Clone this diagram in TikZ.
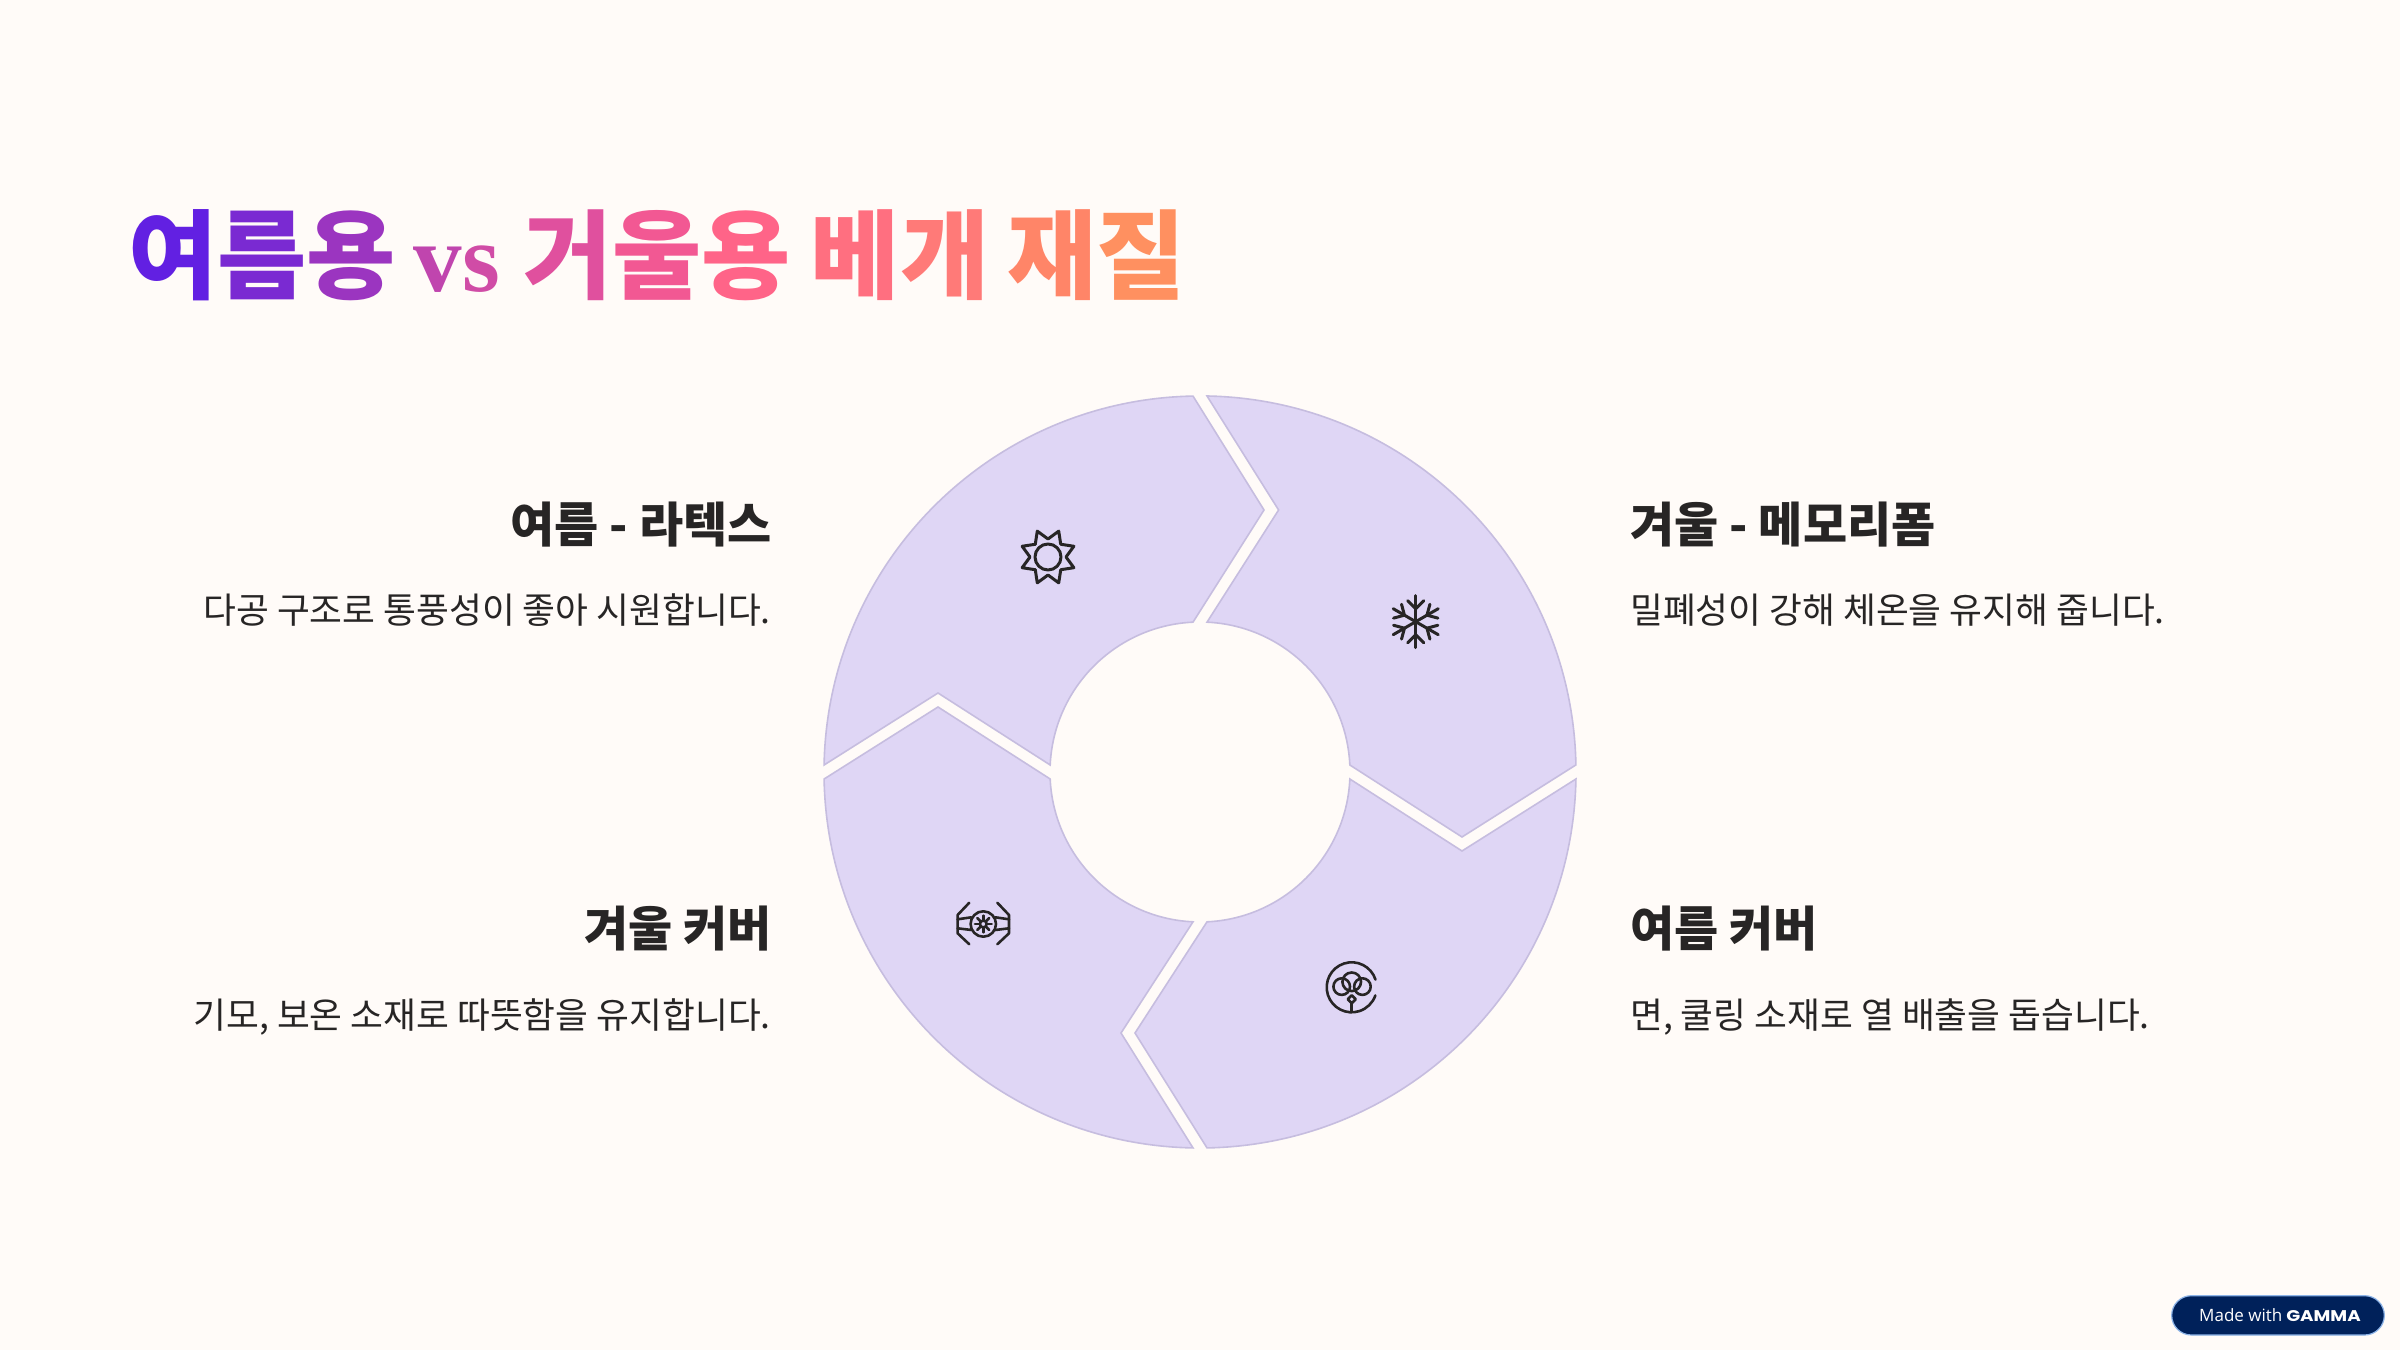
\documentclass[tikz,border=0pt]{standalone}
\usepackage{fontspec}
\setmainfont{Noto Sans CJK KR}
\newfontfamily\krf{Noto Sans CJK KR}
\newfontfamily\vsf{Liberation Serif}
\newfontfamily\badgef{Open Sans}
\newfontfamily\gammaf{Poppins}
\definecolor{bgc}{HTML}{FFFBF8}
\definecolor{petal}{HTML}{DFD6F5}
\definecolor{petaledge}{HTML}{C6BDDF}
\definecolor{ink}{HTML}{272525}
\definecolor{navy}{HTML}{00215A}
\definecolor{navyedge}{HTML}{8DB4E8}
\newcommand{\tg}[2]{\textcolor[HTML]{#1}{#2}}
\tikzset{
  petalshape/.style={fill=petal,draw=petaledge,line width=1.6pt,line join=miter},
  iconline/.style={draw=ink,line width=3pt,line cap=round,line join=round},
  iconthin/.style={draw=ink,line width=2.6pt,line cap=round,line join=round},
  headr/.style={anchor=base east,text=ink,inner sep=0pt,font=\krf\bfseries\fontsize{48}{48}\selectfont},
  headl/.style={anchor=base west,text=ink,inner sep=0pt,font=\krf\bfseries\fontsize{48}{48}\selectfont},
  bodyr/.style={anchor=base east,text=ink,inner sep=0pt,font=\krf\fontsize{35.7}{35.7}\selectfont},
  bodyl/.style={anchor=base west,text=ink,inner sep=0pt,font=\krf\fontsize{35.7}{35.7}\selectfont},
  titlenode/.style={anchor=base west,inner sep=0pt,font=\krf\bfseries\fontsize{97}{97}\selectfont},
}
\begin{document}
\begin{tikzpicture}[x=1pt,y=1pt]
\useasboundingbox (0,0) rectangle (2400,1350);
\fill[bgc] (0,0) rectangle (2400,1350);
\node[titlenode] (title) at (128,1058) {\tg{6220E2}{여}\tg{7A2AD2}{름}\tg{9B35C0}{용}\kern 18pt{\vsf\bfseries\tg{C045AE}{v}\tg{D04CA6}{s}}\kern 23pt \tg{E0509E}{거}\tg{F25893}{울}\tg{FF6488}{용}\kern 20pt \tg{FF6F80}{베}\tg{FF7A78}{개}\kern 18pt \tg{FF8568}{재}\tg{FF9060}{질}};
% ring
\coordinate (c) at (1200,578);
\draw[petalshape] (1207,954) arc (88.93:1.067:376pt) -- (1462,513) -- (1349.84,585) arc (2.675:87.325:150pt) -- (1278.6,840) -- cycle;
\draw[petalshape] (1575.93,571) arc (-1.067:-88.93:376pt) -- (1135,317) -- (1207,428.16) arc (-87.325:-2.675:150pt) -- (1462,499) -- cycle;
\draw[petalshape] (1193,202.07) arc (-91.067:-178.93:376pt) -- (938,643) -- (1050.16,571) arc (182.675:267.325:150pt) -- (1121,317) -- cycle;
\draw[petalshape] (824.07,585) arc (178.93:91.067:376pt) -- (1264,840) -- (1193,727.84) arc (92.675:177.325:150pt) -- (938,657) -- cycle;
% sun
\begin{scope}[shift={(1048,793)}]
\draw[iconline] (22.5:28) -- (45:18) -- (67.5:28) -- (90:18) -- (112.5:28) -- (135:18) -- (157.5:28) -- (180:18) -- (202.5:28) -- (225:18) -- (247.5:28) -- (270:18) -- (292.5:28) -- (315:18) -- (337.5:28) -- (0:18) -- cycle;
\draw[iconline] (0,0) circle (13);
\end{scope}
% snowflake
\begin{scope}[shift={(1415.7,728.3)}]
\foreach \a in {90,30,-30,-90,-150,150}{
  \draw[iconline,rotate=\a] (0,0) -- (26,0);
  \draw[iconline,rotate=\a] (13,0) -- (21,8);
  \draw[iconline,rotate=\a] (13,0) -- (21,-8);
}
\end{scope}
% twin-wing icon
\begin{scope}[shift={(983.3,426)}]
\draw[iconthin] (0,0) circle (12.7);
\draw[iconthin] (0,0) circle (3.4);
\foreach \a in {0,45,...,315}{\draw[iconthin,rotate=\a] (3.4,0) -- (8.4,0);}
\foreach \s in {-1,1}{
  \draw[iconthin,xscale=\s] (14,21.3) -- (25.7,9) -- (25.7,-9.3) -- (14,-20.3);
  \draw[iconthin,xscale=\s] (25.7,4.7) -- (12,6.7);
  \draw[iconthin,xscale=\s] (25.7,-4.3) -- (12,-6);
}
\end{scope}
% cotton
\begin{scope}[shift={(1351.7,362.7)}]
\draw[iconthin] (0,0) ++(18:25) arc (18:341:25);
\draw[iconthin] (-10,0.7) circle (8.3);
\draw[iconthin] (10.7,0.7) circle (8.3);
\draw[iconthin] (0,5.5) circle (9.3);
\draw[iconthin] (0,-8) -- (4,-12) -- (0,-16) -- (-4,-12) -- cycle;
\draw[iconthin] (0,-16) -- (0,-25);
\end{scope}
% labels
\node[headr] (h1) at (772,807) {여름 - 라텍스};
\node[bodyr] (b1) at (771,726) {다공 구조로 통풍성이 좋아 시원합니다.};
\node[headl] (h2) at (1630,807) {겨울 - 메모리폼};
\node[bodyl] (b2) at (1630,726) {밀폐성이 강해 체온을 유지해 줍니다.};
\node[headr] (h3) at (772,403) {겨울 커버};
\node[bodyr] (b3) at (771,322) {기모, 보온 소재로 따뜻함을 유지합니다.};
\node[headl] (h4) at (1630,403) {여름 커버};
\node[bodyl] (b4) at (1630,322) {면, 쿨링 소재로 열 배출을 돕습니다.};
% badge
\draw[fill=navy,draw=navyedge,line width=1.2pt,rounded corners=19.6pt] (2171.7,15) rectangle (2384.3,54.3);
\node[anchor=base west,text=white,inner sep=0pt,font=\badgef\fontsize{17}{17}\selectfont] (bt) at (2199,28.5) {Made with};
\node[anchor=base west,text=white,inner sep=0pt,xscale=1.18,font=\gammaf\bfseries\fontsize{15.5}{15.5}\selectfont] (bg) at (2286,28.5) {GAMMA};
\end{tikzpicture}
\end{document}
